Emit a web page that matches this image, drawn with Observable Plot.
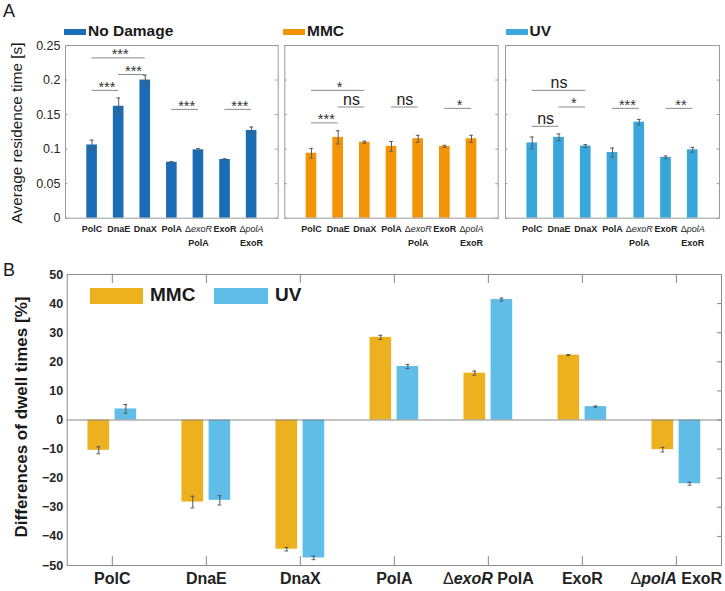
<!DOCTYPE html>
<html><head><meta charset="utf-8">
<script src="https://cdn.jsdelivr.net/npm/d3@7"></script>
<script src="https://cdn.jsdelivr.net/npm/@observablehq/plot@0.6"></script>
<style>
body{margin:0;background:#fff;font-family:"Liberation Sans",Arial,sans-serif;}
#fig{position:relative;width:725px;height:591px;overflow:hidden;background:#fff;}
.abs{position:absolute;white-space:nowrap;color:#1a1a1a;}
.sw{position:absolute;}
</style></head><body><div id="fig"></div>
<script>
// ---------- data ----------
const genes = ["PolC","DnaE","DnaX","PolA","ΔexoR PolA","ExoR","ΔpolA ExoR"];
const labelsA = ["PolC","DnaE","DnaX","PolA","ΔexoR\nPolA","ExoR","ΔpolA\nExoR"];
const labelsB = ["PolC","DnaE","DnaX","PolA","ΔexoR PolA","ExoR","ΔpolA ExoR"];
const conditions = ["No Damage","MMC","UV"];
const noDamage    = [0.106,0.162,0.200,0.081,0.099,0.085,0.127];
const noDamageErr = [0.007,0.012,0.007,0.001,0.002,0.001,0.005];
const mmc         = [0.094,0.117,0.110,0.104,0.115,0.104,0.115];
const mmcErr      = [0.007,0.0095,0.0015,0.007,0.005,0.0015,0.005];
const uv          = [0.109,0.117,0.1045,0.095,0.139,0.088,0.099];
const uvErr       = [0.0085,0.005,0.002,0.0065,0.004,0.002,0.0035];
const yTicksA      = [0,0.05,0.1,0.15,0.2,0.25];
const yTickLabelsA = ["0","0.05","0.1","0.15","0.2","0.25"];
// significance brackets: [from, to, height, label]
const sigNoDamage = [[1,3,0.232,"***"],[1,2,0.185,"***"],[2,3,0.208,"***"],[4,5,0.1575,"***"],[6,7,0.1575,"***"]];
const sigMMC      = [[1,3,0.185,"*"],[2,3,0.161,"ns"],[1,2,0.138,"***"],[4,5,0.161,"ns"],[6,7,0.159,"*"]];
const sigUV       = [[1,3,0.185,"ns"],[2,3,0.161,"*"],[1,2,0.133,"ns"],[4,5,0.159,"***"],[6,7,0.159,"**"]];
const diffSeries  = ["MMC","UV"];
const diffMMC     = [-10.4,-28.2,-44.4,28.4,16.1,22.3,-10.2];
const diffMMCErr  = [1.2,2.0,0.6,0.7,0.7,0.2,0.8];
const diffUV      = [3.8,-27.6,-47.4,18.4,41.4,4.6,-21.9];
const diffUVErr   = [1.5,1.6,0.6,0.7,0.5,0.2,0.5];
const yTicksB     = [-50,-40,-30,-20,-10,0,10,20,30,40,50];

// ---------- helpers ----------
const fig = document.getElementById("fig");
const SVGNS = "http://www.w3.org/2000/svg";
function place(el, left, top){ el.style.position="absolute"; el.style.left=left+"px"; el.style.top=top+"px"; fig.appendChild(el); }
function italicize(svg, weight){
  d3.select(svg).selectAll("text").each(function(){
    const lines = this.querySelectorAll("tspan");
    const targets = lines.length ? Array.from(lines) : [this];
    for (const t of targets){
      const m = t.textContent.match(/^Δ(exoR|polA)(.*)$/);
      if (!m) continue;
      t.textContent = "";
      const d = document.createElementNS(SVGNS,"tspan"); d.setAttribute("font-weight","normal"); d.textContent="Δ"; t.appendChild(d);
      const it = document.createElementNS(SVGNS,"tspan"); it.setAttribute("font-style","italic"); it.setAttribute("font-weight",weight); it.textContent=m[1]; t.appendChild(it);
      if (m[2]) t.appendChild(document.createTextNode(m[2]));
    }
  });
}
function html(text, left, top, css){ const d=document.createElement("div"); d.className="abs"; d.textContent=text; d.style.cssText+=`left:${left}px;top:${top}px;`+css; fig.appendChild(d); return d; }
function swatch(left, top, w, h, color){ const d=document.createElement("div"); d.className="sw"; d.style.cssText=`left:${left}px;top:${top}px;width:${w}px;height:${h}px;background:${color};`; fig.appendChild(d); }

const colA = {"No Damage":"#1a6db5","MMC":"#f39408","UV":"#3aa7dc"};
const colB = {"MMC":"#edb120","UV":"#5fbde8"};

// ---------- panel A ----------
function subplot(vals, errs, color, sig, opt){
  const rows = genes.map((g,i)=>({i:i+1, v:vals[i], e:errs[i]}));
  const sg = sig.map(([a,b,y,t])=>({a,b,y,t}));
  const stars = sg.filter(d=>d.t!=="ns"), ns = sg.filter(d=>d.t==="ns");
  const marks = [
    Plot.rectY(rows,{x1:d=>d.i-0.2,x2:d=>d.i+0.2,y1:0,y2:"v",fill:color}),
    Plot.ruleX(rows,{x:"i",y1:d=>d.v-d.e,y2:d=>d.v+d.e,stroke:"#5a5a5a",strokeWidth:1}),
    Plot.ruleY(rows,{y:d=>d.v+d.e,x1:d=>d.i-0.07,x2:d=>d.i+0.07,stroke:"#5a5a5a",strokeWidth:1}),
    Plot.ruleY(rows,{y:d=>d.v-d.e,x1:d=>d.i-0.07,x2:d=>d.i+0.07,stroke:"#5a5a5a",strokeWidth:1}),
    Plot.ruleY(sg,{y:"y",x1:"a",x2:"b",stroke:"#8a8a8a",strokeWidth:1}),
    Plot.text(stars,{x:d=>(d.a+d.b)/2,y:"y",text:"t",lineAnchor:"bottom",dy:1.5,dx:1.5,fontSize:14.5,fill:"#333",style:"letter-spacing:3px"}),
    Plot.text(ns,{x:d=>(d.a+d.b)/2,y:"y",text:"t",lineAnchor:"bottom",dy:-2,fontSize:16,fill:"#222"}),
    Plot.ruleY(yTicksA,{x1:0,x2:0.09,stroke:"#999"}),
    Plot.ruleY(yTicksA,{x1:7.91,x2:8,stroke:"#999"}),
    Plot.frame({stroke:"#9a9a9a"}),
    Plot.axisX([1,2,3,4,5,6,7],{tickSize:0,tickPadding:5,tickFormat:i=>labelsA[i-1],fontSize:9,fontWeight:"bold",lineHeight:1.45,fill:"#222",label:null})
  ];
  if (opt.showY) marks.push(Plot.axisY(yTicksA,{tickSize:0,tickPadding:5,tickFormat:(d,i)=>yTickLabelsA[i],fontSize:12.5,fill:"#262626",label:null}));
  const p = Plot.plot({width:opt.width,height:250,marginLeft:opt.mL,marginRight:opt.mR,marginTop:45,marginBottom:32.3,
    x:{domain:[0,8]},y:{domain:[0,0.25],axis:opt.showY?undefined:null},
    style:{background:"transparent",overflow:"visible",fontFamily:"Liberation Sans, Arial, sans-serif"},
    marks});
  italicize(p,"normal");
  place(p,opt.left,0);
}
subplot(noDamage,noDamageErr,colA["No Damage"],sigNoDamage,{left:0,width:280,mL:65,mR:2.3,showY:true});
subplot(mmc,mmcErr,colA["MMC"],sigMMC,{left:280,width:220,mL:4.3,mR:2.3,showY:false});
subplot(uv,uvErr,colA["UV"],sigUV,{left:500,width:225,mL:5,mR:6,showY:false});

// legends panel A
const legA = [[64,conditions[0]],[283,conditions[1]],[505.5,conditions[2]]];
for (const [x,name] of legA){
  swatch(x,28.5,22,6,colA[name]);
  html(name,x+24,22,"font-size:15.5px;font-weight:bold;line-height:18px;");
}
html("A",3,1,"font-size:18px;line-height:20px;");
html("Average residence time [s]",17,133,"font-size:15.3px;line-height:16px;transform:translate(-50%,-50%) rotate(-90deg);");

// ---------- panel B ----------
const rowsB = genes.flatMap((g,i)=>[
  {i:i+1,s:diffSeries[0],v:diffMMC[i],e:diffMMCErr[i],off:-0.144},
  {i:i+1,s:diffSeries[1],v:diffUV[i],e:diffUVErr[i],off:0.144}
]);
const pB = Plot.plot({width:725,height:341,marginLeft:66.7,marginRight:4,marginTop:24,marginBottom:26,
  x:{domain:[0.52,7.48]},y:{domain:[-50,50]},
  color:{domain:diffSeries,range:diffSeries.map(s=>colB[s])},
  style:{background:"transparent",overflow:"visible",fontFamily:"Liberation Sans, Arial, sans-serif"},
  marks:[
    Plot.rectY(rowsB,{x1:d=>d.i+d.off-0.115,x2:d=>d.i+d.off+0.115,y1:0,y2:"v",fill:"s"}),
    Plot.ruleY([0],{stroke:"#888",strokeWidth:1}),
    Plot.ruleX(rowsB,{x:d=>d.i+d.off,y1:d=>d.v-d.e,y2:d=>d.v+d.e,stroke:"#555"}),
    Plot.ruleY(rowsB,{y:d=>d.v+d.e,x1:d=>d.i+d.off-0.02,x2:d=>d.i+d.off+0.02,stroke:"#555"}),
    Plot.ruleY(rowsB,{y:d=>d.v-d.e,x1:d=>d.i+d.off-0.02,x2:d=>d.i+d.off+0.02,stroke:"#555"}),
    Plot.ruleY(yTicksB,{x1:7.437,x2:7.48,stroke:"#888"}),
    Plot.ruleX([1,2,3,4,5,6,7],{y1:50,y2:46.9,stroke:"#888"}),
    Plot.ruleX([1,2,3,4,5,6,7],{y1:-50,y2:-46.9,stroke:"#888"}),
    Plot.frame({stroke:"#8a8a8a"}),
    Plot.axisX([1,2,3,4,5,6,7],{tickSize:0,tickPadding:7,tickFormat:i=>labelsB[i-1],fontSize:16,fontWeight:"bold",fill:"#222",label:null}),
    Plot.axisY(yTicksB,{tickSize:0,tickPadding:4,fontSize:12.5,fontWeight:"bold",fill:"#262626",label:null})
  ]});
italicize(pB,"bold");
place(pB,0,250);

// legend panel B
const legB = [[90,diffSeries[0],143],[214,diffSeries[1],268]];
for (const [x,name,x2] of legB){
  swatch(x,287.7,x2-x,16.3,colB[name]);
  html(name,x2+7,284,"font-size:19px;font-weight:bold;line-height:22px;");
}
html("B",3,260,"font-size:18px;line-height:20px;");
html("Differences of dwell times [%]",22,417,"font-size:17px;font-weight:bold;line-height:18px;transform:translate(-50%,-50%) rotate(-90deg);");
</script></body></html>
